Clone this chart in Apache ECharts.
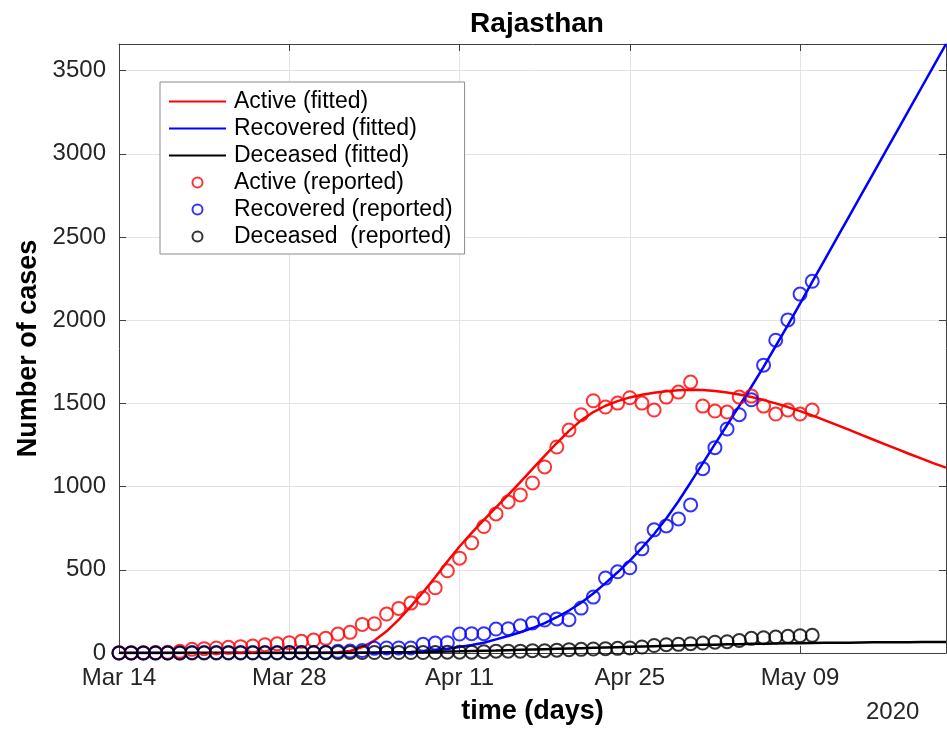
<!DOCTYPE html>
<html>
<head>
<meta charset="utf-8">
<script src="https://cdn.jsdelivr.net/npm/echarts@6/dist/echarts.min.js"></script>
<style>
html,body{margin:0;padding:0;background:#fff;}
#chart{width:947px;height:729px;}
</style>
</head>
<body>
<div id="chart"></div>
<script>
// Day index 0 = Mar 14, 2020 (daily)
const xTickLabels = ['Mar 14', 'Mar 28', 'Apr 11', 'Apr 25', 'May 09'];
const yearLabel = '2020';

// Reported data: Mar 14 .. May 10 (58 days)
const activeReported = [2,2,2,3,4,10,22,26,30,34,38,42,50,55,62,70,78,88,114,124,172,176,234,268,300,330,392,494,570,662,760,836,908,950,1022,1118,1238,1340,1432,1516,1478,1502,1534,1502,1460,1538,1568,1628,1484,1454,1448,1538,1544,1484,1436,1460,1436,1460];
const recoveredReported = [0,0,0,0,0,0,3,3,3,3,3,3,3,3,3,3,3,4,10,12,15,28,30,30,30,52,60,62,114,116,116,144,146,164,180,198,205,200,270,336,450,488,512,626,740,764,806,890,1108,1234,1346,1432,1522,1730,1880,2002,2157,2234];
const deceasedReported = [0,0,0,0,0,0,0,0,0,0,0,0,0,0,1,1,1,2,3,3,3,3,3,3,3,3,3,5,5,5,8,11,11,11,14,14,17,20,22,24,26,28,30,36,45,50,52,56,60,65,68,75,88,92,96,100,104,106];

// Fitted curves: Mar 14 .. May 21 (69 days)
const activeFitted = [0,0,0,0,0,0,0,0,0,0,0,0,0,0,0,0,1,2,5,12,35,75,130,200,280,365,455,550,640,722,800,875,950,1027,1106,1185,1262,1335,1398,1448,1486,1514,1536,1552,1564,1573,1579,1582,1580,1574,1565,1553,1538,1520,1500,1478,1454,1428,1400,1371,1342,1312,1283,1254,1225,1196,1168,1140,1114];
const recoveredFitted = [0,0,0,0,0,0,0,0,0,0,0,0,0,0,0,0,0,0,0,0,1,2,3,4,6,10,16,25,36,48,62,82,102,125,150,180,215,255,302,358,420,485,555,632,715,808,912,1025,1140,1255,1370,1485,1600,1720,1845,1970,2100,2230,2360,2490,2620,2750,2880,3010,3140,3270,3400,3530,3660];
const deceasedFitted = [0,0,0,0,0,0,0,0,0,0,0,0,0,0,0,0,0,0,0,0,1,2,3,4,5,6,8,9,10,12,14,15,17,19,21,23,25,27,29,31,33,35,37,39,41,43,45,47,49,50,52,53,55,56,57,58,59,60,61,62,62,63,64,64,65,65,66,66,66];

const seriesNames = ['Active (fitted)', 'Recovered (fitted)', 'Deceased (fitted)', 'Active (reported)', 'Recovered (reported)', 'Deceased  (reported)'];

const toXY = arr => arr.map((v, i) => [i, v]);
const FONT = '"Liberation Sans", Arial, Helvetica, sans-serif';
const AXIS_COLOR = '#404040';
const X_MAX = xTickLabels.length * 14 - 2;   // last fitted day
const Y_MAX = Math.max(...recoveredFitted);

const chart = echarts.init(document.getElementById('chart'), null, {renderer: 'canvas'});

function lineSeries(name, data, color) {
  return {name, type: 'line', data: toXY(data), symbol: 'none', showSymbol: false, smooth: false,
    lineStyle: {color, width: 2.5}, itemStyle: {color}, clip: true, z: 2};
}
function dotSeries(name, data, color) {
  return {name, type: 'scatter', data: toXY(data), symbol: 'circle', symbolSize: 13,
    itemStyle: {color: 'rgba(255,255,255,0)', borderColor: color, borderWidth: 2}, z: 3};
}

const option = {
  backgroundColor: '#fff',
  animation: false,
  textStyle: {fontFamily: FONT},
  title: {
    text: 'Rajasthan', left: 532, top: 5, textAlign: 'center',
    textStyle: {fontFamily: FONT, fontSize: 28, fontWeight: 'bold', color: '#000'}
  },
  grid: {left: 119, right: 1, top: 44, bottom: 76, containLabel: false, outerBoundsMode: 'none'},
  legend: {
    orient: 'vertical', left: 160, top: 82,
    padding: [6, 12, 4, 8],
    itemWidth: 57, itemHeight: 10, itemGap: 0,
    backgroundColor: '#fff', borderColor: '#8a8a8a', borderWidth: 1,
    textStyle: {fontFamily: FONT, fontSize: 23, color: '#000', lineHeight: 27, padding: [0, 0, 0, 3]},
    data: seriesNames.map((n, i) => i < 3
      ? {name: n, itemStyle: {opacity: 0}}
      : {name: n, icon: 'circle'})
  },
  xAxis: [{
    type: 'value', min: 0, max: X_MAX, interval: 14,
    axisLine: {show: true, onZero: false, lineStyle: {color: AXIS_COLOR, width: 1}},
    axisTick: {show: true, inside: true, length: 7, lineStyle: {color: AXIS_COLOR}},
    axisLabel: {
      show: true, margin: 13, showMaxLabel: false,
      fontFamily: FONT, fontSize: 24, color: '#262626',
      formatter: v => (v % 14 === 0 && xTickLabels[v / 14]) ? xTickLabels[v / 14] : ''
    },
    splitLine: {show: true, lineStyle: {color: '#e3e3e3', width: 1}},
    name: 'time (days)', nameLocation: 'middle', nameGap: 45,
    nameTextStyle: {fontFamily: FONT, fontSize: 27, fontWeight: 'bold', color: '#000'}
  }, {
    type: 'value', position: 'top', min: 0, max: X_MAX, interval: 14,
    axisLine: {show: true, onZero: false, lineStyle: {color: AXIS_COLOR, width: 1}},
    axisTick: {show: true, inside: true, length: 7, lineStyle: {color: AXIS_COLOR}},
    axisLabel: {show: false}, splitLine: {show: false}
  }],
  yAxis: [{
    type: 'value', min: 0, max: Y_MAX, interval: 500,
    axisLine: {show: true, onZero: false, lineStyle: {color: AXIS_COLOR, width: 1}},
    axisTick: {show: true, inside: true, length: 7, lineStyle: {color: AXIS_COLOR}},
    axisLabel: {show: true, margin: 13, showMaxLabel: false, fontFamily: FONT, fontSize: 24, color: '#262626',
      formatter: v => String(v)},
    splitLine: {show: true, lineStyle: {color: '#e3e3e3', width: 1}},
    name: 'Number of cases', nameLocation: 'middle', nameGap: 72,
    nameTextStyle: {fontFamily: FONT, fontSize: 27, fontWeight: 'bold', color: '#000'}
  }, {
    type: 'value', position: 'right', min: 0, max: Y_MAX, interval: 500,
    axisLine: {show: true, onZero: false, lineStyle: {color: AXIS_COLOR, width: 1}},
    axisTick: {show: true, inside: true, length: 7, lineStyle: {color: AXIS_COLOR}},
    axisLabel: {show: false}, splitLine: {show: false}
  }],
  graphic: [{
    type: 'text', left: 866, top: 700,
    style: {text: yearLabel, font: '24px ' + FONT, fill: '#262626'}
  }],
  series: [
    lineSeries(seriesNames[0], activeFitted, '#ff0000'),
    lineSeries(seriesNames[1], recoveredFitted, '#0000ff'),
    lineSeries(seriesNames[2], deceasedFitted, '#000000'),
    dotSeries(seriesNames[3], activeReported, '#ff0000'),
    dotSeries(seriesNames[4], recoveredReported, '#0000ff'),
    dotSeries(seriesNames[5], deceasedReported, '#000000')
  ]
};
chart.setOption(option);
</script>
</body>
</html>
